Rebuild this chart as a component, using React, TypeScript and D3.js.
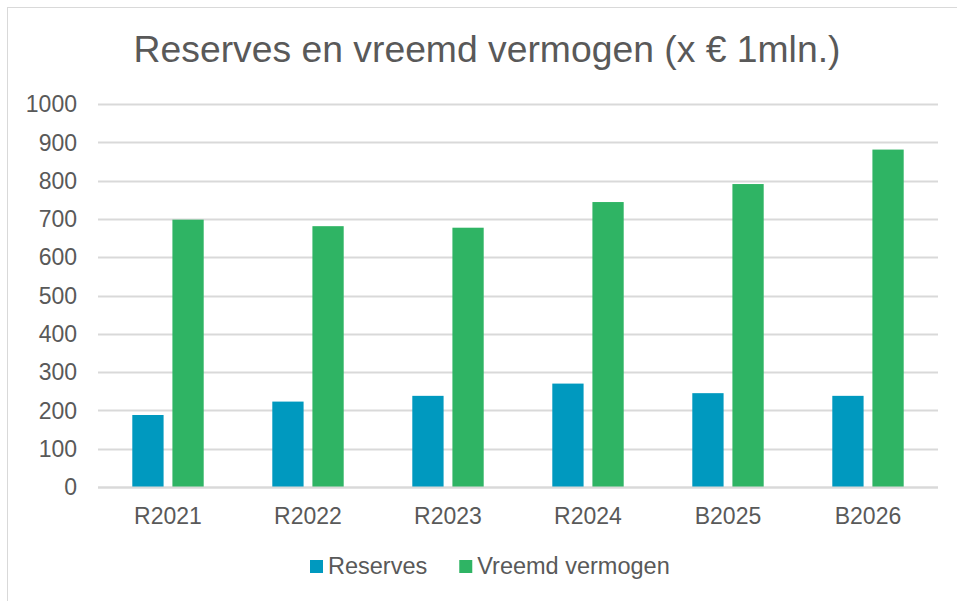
import React, { useEffect, useRef } from 'react';
import * as d3 from 'd3';

const categories = ['R2021', 'R2022', 'R2023', 'R2024', 'B2025', 'B2026'];
const seriesNames = ['Reserves', 'Vreemd vermogen'];
const reserves = [188, 223, 238, 270, 245, 238];
const vreemdVermogen = [698, 681, 677, 744, 791, 881];
const yTicks = [0, 100, 200, 300, 400, 500, 600, 700, 800, 900, 1000];
const colors = ['#0099bf', '#2fb464'];

const App = () => {
  const ref = useRef<SVGSVGElement | null>(null);

  useEffect(() => {
    const width = 957;
    const height = 601;
    const margin = { top: 104, right: 19, bottom: 114, left: 98 };
    const font = "'Liberation Sans', Arial, sans-serif";
    const textColor = '#595959';

    const svg = d3.select(ref.current);
    svg.selectAll('*').remove();

    // chart frame
    svg.append('rect')
      .attr('x', 7.5).attr('y', 7.5)
      .attr('width', 970).attr('height', 620)
      .attr('fill', '#fff')
      .attr('stroke', '#d9d9d9');

    svg.append('text')
      .attr('x', 487).attr('y', 62)
      .attr('text-anchor', 'middle')
      .attr('font-family', font)
      .attr('font-size', 37.3)
      .attr('fill', textColor)
      .text('Reserves en vreemd vermogen (x € 1mln.)');

    const innerW = width - margin.left - margin.right;
    const innerH = height - margin.top - margin.bottom;

    const g = svg.append('g').attr('transform', `translate(${margin.left},${margin.top})`);

    const x0 = d3.scaleBand().domain(categories).range([0, innerW]).paddingInner(0.49).paddingOuter(0.245);
    const x1 = d3.scaleBand().domain(seriesNames).range([0, x0.bandwidth()]).paddingInner(0.22);
    const y = d3.scaleLinear().domain([0, 1000]).range([innerH, 0]);

    // gridlines
    g.selectAll('.grid')
      .data(yTicks)
      .enter()
      .append('line')
      .attr('x1', 0).attr('x2', innerW)
      .attr('y1', d => Math.round(y(d)) + 0.5)
      .attr('y2', d => Math.round(y(d)) + 0.5)
      .attr('stroke', '#d9d9d9')
      .attr('stroke-width', 2);

    // y labels
    g.selectAll('.ylab')
      .data(yTicks)
      .enter()
      .append('text')
      .attr('x', -21)
      .attr('y', d => y(d))
      .attr('dy', '0.36em')
      .attr('text-anchor', 'end')
      .attr('font-family', font)
      .attr('font-size', 23)
      .attr('fill', textColor)
      .text(d => d);

    const rows = categories.map((c, i) => ({ cat: c, values: [reserves[i], vreemdVermogen[i]] }));

    const groups = g.selectAll('.grp')
      .data(rows)
      .enter()
      .append('g')
      .attr('transform', d => `translate(${x0(d.cat)},0)`);

    groups.selectAll('rect')
      .data(d => d.values.map((v, k) => ({ key: seriesNames[k], v, k })))
      .enter()
      .append('rect')
      .attr('x', d => x1(d.key))
      .attr('y', d => y(d.v))
      .attr('width', x1.bandwidth())
      .attr('height', d => innerH - y(d.v))
      .attr('fill', d => colors[d.k]);

    // baseline
    g.append('line')
      .attr('x1', 0).attr('x2', innerW)
      .attr('y1', innerH + 0.5).attr('y2', innerH + 0.5)
      .attr('stroke', '#d9d9d9')
      .attr('stroke-width', 2);

    // x labels
    g.selectAll('.xlab')
      .data(categories)
      .enter()
      .append('text')
      .attr('x', d => x0(d) + x0.bandwidth() / 2)
      .attr('y', innerH + 37)
      .attr('text-anchor', 'middle')
      .attr('font-family', font)
      .attr('font-size', 23)
      .attr('fill', textColor)
      .text(d => d);

    // legend
    const legend = svg.append('g');
    const items = legend.selectAll('.item')
      .data(seriesNames)
      .enter()
      .append('g');
    items.append('rect')
      .attr('width', 13).attr('height', 13)
      .attr('y', 560)
      .attr('fill', (d, i) => colors[i]);
    items.append('text')
      .attr('x', 18)
      .attr('y', 574)
      .attr('font-family', font)
      .attr('font-size', 23.5)
      .attr('fill', textColor)
      .text(d => d);

    let cx = 310;
    items.each(function () {
      const item = d3.select(this);
      item.attr('transform', `translate(${cx},0)`);
      const w = (item.select('text').node() as SVGTextElement).getComputedTextLength();
      cx += 18 + w + 32;
    });
  }, []);

  return (
    <svg ref={ref} width={957} height={601} style={{ position: 'absolute', left: 0, top: 0, background: '#fff' }} />
  );
};

export default App;
